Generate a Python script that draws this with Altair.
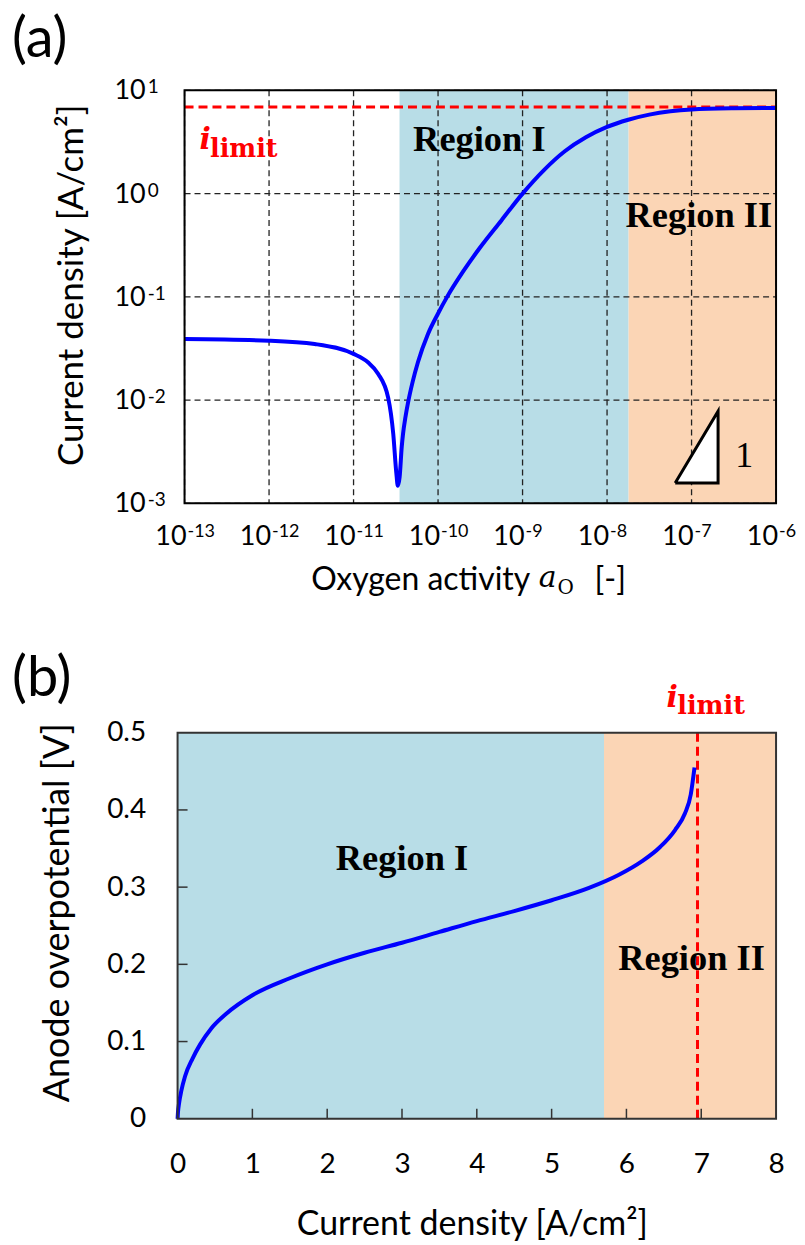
import altair as alt
import pandas as pd

# ---------------- Panel (a) data ----------------
a_activity = [1e-13, 1e-12, 3.47e-12, 1e-11, 1.48e-11, 1.95e-11, 2.57e-11, 2.95e-11, 3.21e-11,
              3.34e-11, 3.51e-11, 3.72e-11, 3.85e-11, 4.12e-11, 4.42e-11, 5.01e-11, 5.79e-11,
              7.6e-11, 1e-10, 1.26e-10, 2.0e-10, 3.16e-10, 5.62e-10, 1e-9, 1.78e-9, 3.16e-9,
              5.62e-9, 1e-8, 1.78e-8, 3.16e-8, 5.62e-8, 1e-7, 3.16e-7, 1e-6]
a_current = [0.039, 0.0376, 0.0349, 0.028, 0.0232, 0.018, 0.0105, 0.0047, 0.00195,
             0.00148, 0.0018, 0.00355, 0.0047, 0.0069, 0.0095, 0.0151, 0.0234,
             0.0437, 0.069, 0.0977, 0.178, 0.302, 0.55, 1.0, 1.68, 2.57,
             3.51, 4.42, 5.19, 5.82, 6.27, 6.53, 6.71, 6.76]
a_region_names = ["Region I", "Region II"]
a_region_start = [3.5e-11, 1.8e-8]
a_region_end = [1.8e-8, 1e-6]
a_ilimit = 6.9
a_xticks = [1e-13, 1e-12, 1e-11, 1e-10, 1e-9, 1e-8, 1e-7, 1e-6]
a_xbase = ["10"] * 8
a_xexp = ["-13", "-12", "-11", "-10", "-9", "-8", "-7", "-6"]
a_yticks = [1e-3, 1e-2, 1e-1, 1, 10]
a_ybase = ["10"] * 5
a_yexp = ["-3", "-2", "-1", "0", "1"]
tri_x = [6.4e-8, 2.06e-7]
tri_y = [0.00157, 0.0078]
a_text = ["Region I", "Region II"]
a_text_x = [3.08e-10, 1.22e-7]
a_text_y = [3.29, 0.607]
slope_text = ["1"]
slope_x = [4.2e-7]
slope_y = [0.0029]

# ---------------- Panel (b) data ----------------
b_current = [0, 0.005, 0.02, 0.05, 0.1, 0.2, 0.3, 0.45, 0.65, 1.0, 1.5, 2.0, 2.5, 3.0, 3.5,
             4.0, 4.5, 5.0, 5.5, 5.9, 6.2, 6.45, 6.65, 6.78, 6.86, 6.91]
b_overpot = [0, 0.008, 0.02, 0.036, 0.055, 0.078, 0.096, 0.117, 0.136, 0.16, 0.182, 0.2, 0.215,
             0.228, 0.242, 0.256, 0.269, 0.283, 0.299, 0.316, 0.333, 0.352, 0.374, 0.395, 0.42, 0.455]
b_region_start = [0, 5.7]
b_region_end = [5.7, 8]
b_ilimit = 6.95
b_xticks = [0, 1, 2, 3, 4, 5, 6, 7, 8]
b_yticks = [0, 0.1, 0.2, 0.3, 0.4, 0.5]
b_text = ["Region I", "Region II"]
b_text_x = [3.0, 6.87]
b_text_y = [0.336, 0.207]

BLUE_BG = "#B8DDE7"
ORANGE_BG = "#FBD5B5"
LINE_BLUE = "#0000FF"
RED = "#FF0000"
SANS = "Lato"
SERIF = "Liberation Serif"
MATH = "DejaVu Serif"

# ---------------- Panel (a) ----------------
WA, HA = 600, 414
X0 = 7  # plot area of panel (a) starts 7px right of panel (b)'s
xs_a = alt.Scale(type="log", domain=[1e-13, 1e-6], range=[X0, WA], nice=False)
ys_a = alt.Scale(type="log", domain=[1e-3, 10], nice=False)
AX_XA = alt.Axis(values=a_xticks, labels=False, ticks=False, domain=False, grid=False, title=None)
AX_YA = alt.Axis(values=a_yticks, labels=False, ticks=False, domain=False, grid=False,
                 title="Current density [A/cm²]", titleX=-106, titleY=195,
                 titleAngle=270, titleAlign="center", titleBaseline="middle", titleFontSize=35)

reg_a = pd.DataFrame({"name": a_region_names, "start": a_region_start, "end": a_region_end})
rects_a = alt.Chart(reg_a).mark_rect().encode(
    x=alt.X("start:Q", scale=xs_a, axis=AX_XA), x2="end:Q",
    y=alt.value(0), y2=alt.value(HA),
    color=alt.Color("name:N", scale=alt.Scale(domain=a_region_names, range=[BLUE_BG, ORANGE_BG]), legend=None),
)
gx_a = alt.Chart(pd.DataFrame({"v": a_xticks})).mark_rule(color="#222", strokeWidth=1.3, strokeDash=[6, 4]).encode(
    x=alt.X("v:Q", scale=xs_a, axis=AX_XA))
gy_a = alt.Chart(pd.DataFrame({"v": a_yticks})).mark_rule(color="#222", strokeWidth=1.3, strokeDash=[6, 4]).encode(
    y=alt.Y("v:Q", scale=ys_a, axis=AX_YA), x=alt.value(X0), x2=alt.value(WA))
lim_a = alt.Chart(pd.DataFrame({"v": [a_ilimit]})).mark_rule(color=RED, strokeWidth=3, strokeDash=[9, 5]).encode(
    y=alt.Y("v:Q", scale=ys_a, axis=AX_YA), x=alt.value(X0), x2=alt.value(WA))
curve_a = alt.Chart(pd.DataFrame({"a": a_activity, "i": a_current})).mark_line(
    color=LINE_BLUE, strokeWidth=4, interpolate="monotone").encode(
    x=alt.X("a:Q", scale=xs_a, axis=AX_XA), y=alt.Y("i:Q", scale=ys_a, axis=AX_YA))
tri_area = alt.Chart(pd.DataFrame({"x": tri_x, "y": [tri_y[0], tri_y[1]], "y2": [tri_y[0], tri_y[0]]})).mark_area(
    color="white", opacity=1).encode(
    x=alt.X("x:Q", scale=xs_a, axis=AX_XA), y=alt.Y("y:Q", scale=ys_a, axis=AX_YA), y2="y2:Q")
tri_line = alt.Chart(pd.DataFrame({"x": [tri_x[0], tri_x[1], tri_x[1], tri_x[0]],
                                   "y": [tri_y[0], tri_y[0], tri_y[1], tri_y[0]],
                                   "o": [0, 1, 2, 3]})).mark_line(color="black", strokeWidth=3, strokeJoin="miter").encode(
    x=alt.X("x:Q", scale=xs_a, axis=AX_XA), y=alt.Y("y:Q", scale=ys_a, axis=AX_YA), order="o:Q")
txt_a = alt.Chart(pd.DataFrame({"t": a_text, "x": a_text_x, "y": a_text_y})).mark_text(
    font=SERIF, fontWeight="bold", fontSize=36.5, color="black").encode(
    x=alt.X("x:Q", scale=xs_a, axis=AX_XA), y=alt.Y("y:Q", scale=ys_a, axis=AX_YA), text="t:N")
one_a = alt.Chart(pd.DataFrame({"t": slope_text, "x": slope_x, "y": slope_y})).mark_text(
    font=SERIF, fontSize=36, color="black").encode(
    x=alt.X("x:Q", scale=xs_a, axis=AX_XA), y=alt.Y("y:Q", scale=ys_a, axis=AX_YA), text="t:N")
il_i_a = alt.Chart(pd.DataFrame({"t": ["i"], "x": [1.75e-13], "y": [2.69]})).mark_text(
    font=MATH, fontWeight="bold", fontStyle="italic", fontSize=30, color=RED, baseline="alphabetic").encode(
    x=alt.X("x:Q", scale=xs_a, axis=AX_XA), y=alt.Y("y:Q", scale=ys_a, axis=AX_YA), text="t:N")
il_l_a = alt.Chart(pd.DataFrame({"t": ["limit"], "x": [2.0e-13], "y": [2.27]})).mark_text(
    font=MATH, fontWeight="bold", fontSize=25.5, color=RED, align="left", baseline="alphabetic").encode(
    x=alt.X("x:Q", scale=xs_a, axis=AX_XA), y=alt.Y("y:Q", scale=ys_a, axis=AX_YA), text="t:N")
frame_a = alt.Chart(pd.DataFrame({"d": [0]})).mark_rect(filled=False, stroke="black", strokeWidth=2).encode(
    x=alt.value(X0), x2=alt.value(WA), y=alt.value(0), y2=alt.value(HA))

# tick labels 10^n built from base + superscript exponent
xlab_df = pd.DataFrame({"v": a_xticks, "b": a_xbase, "e": a_xexp})
xlab_base = alt.Chart(xlab_df).mark_text(font=SANS, fontSize=27, align="right", baseline="alphabetic",
                                         dx=2, color="black").encode(
    x=alt.X("v:Q", scale=xs_a, axis=AX_XA), y=alt.value(HA + 42), text="b:N")
xlab_exp = alt.Chart(xlab_df).mark_text(font=SANS, fontSize=18, align="left", baseline="alphabetic",
                                        dx=3, color="black").encode(
    x=alt.X("v:Q", scale=xs_a, axis=AX_XA), y=alt.value(HA + 34), text="e:N")
ylab_df = pd.DataFrame({"v": a_yticks, "b": a_ybase, "e": a_yexp})
ylab_base = alt.Chart(ylab_df).mark_text(font=SANS, fontSize=27, align="right", baseline="alphabetic",
                                         dy=9, color="black").encode(
    y=alt.Y("v:Q", scale=ys_a, axis=AX_YA), x=alt.value(-32), text="b:N")
ylab_exp = alt.Chart(ylab_df).mark_text(font=SANS, fontSize=19, align="left", baseline="alphabetic",
                                        dy=3, color="black").encode(
    y=alt.Y("v:Q", scale=ys_a, axis=AX_YA), x=alt.value(-30), text="e:N")

lab_a = alt.Chart(pd.DataFrame({"t": ["(a)"]})).mark_text(
    font=SANS, fontSize=56, align="left", baseline="middle", color="black").encode(
    x=alt.value(-166), y=alt.value(-50), text="t:N")
xt_a1 = alt.Chart(pd.DataFrame({"t": ["Oxygen activity"]})).mark_text(
    font=SANS, fontSize=32, align="left", baseline="middle", color="black").encode(
    x=alt.value(134), y=alt.value(491), text="t:N")
xt_a2 = alt.Chart(pd.DataFrame({"t": ["a"]})).mark_text(
    font=MATH, fontStyle="italic", fontSize=30, align="left", baseline="middle", color="black").encode(
    x=alt.value(362), y=alt.value(489), text="t:N")
xt_a3 = alt.Chart(pd.DataFrame({"t": ["O"]})).mark_text(
    font=MATH, fontSize=20, align="left", baseline="middle", color="black").encode(
    x=alt.value(381), y=alt.value(499), text="t:N")
xt_a4 = alt.Chart(pd.DataFrame({"t": ["[-]"]})).mark_text(
    font=SANS, fontSize=32, align="left", baseline="middle", color="black").encode(
    x=alt.value(418), y=alt.value(491), text="t:N")

top = alt.layer(rects_a, gx_a, gy_a, lim_a, curve_a, tri_area, tri_line, txt_a, one_a,
                il_i_a, il_l_a, frame_a, xlab_base, xlab_exp, ylab_base, ylab_exp,
                lab_a, xt_a1, xt_a2, xt_a3, xt_a4).properties(width=WA, height=HA)

# ---------------- Panel (b) ----------------
WB, HB = 600, 387
xs_b = alt.Scale(domain=[0, 8], nice=False, zero=False)
ys_b = alt.Scale(domain=[0, 0.5], nice=False, zero=False)
AX_XB = alt.Axis(values=b_xticks, ticks=False, domain=False, grid=False, labelPadding=32, format="~g",
                 labelFlush=False, title="Current density [A/cm²]", titleX=295, titleY=106,
                 titleAlign="center", titleBaseline="middle", titleFontSize=34)
AX_YB = alt.Axis(values=b_yticks, ticks=False, domain=False, grid=False, labelPadding=32, format="~g",
                 labelFlush=False, title="Anode overpotential [V]", titleX=-120, titleY=180,
                 titleAngle=270, titleAlign="center", titleBaseline="middle", titleFontSize=36)
reg_b = pd.DataFrame({"name": a_region_names, "start": b_region_start, "end": b_region_end})
rects_b = alt.Chart(reg_b).mark_rect().encode(
    x=alt.X("start:Q", scale=xs_b, axis=AX_XB), x2="end:Q",
    y=alt.value(0), y2=alt.value(HB),
    color=alt.Color("name:N", scale=alt.Scale(domain=a_region_names, range=[BLUE_BG, ORANGE_BG]), legend=None),
)
tx_b = alt.Chart(pd.DataFrame({"v": b_xticks[1:-1]})).mark_rule(color="#333", strokeWidth=1.5).encode(
    x=alt.X("v:Q", scale=xs_b, axis=AX_XB), y=alt.value(HB), y2=alt.value(HB - 10))
ty_b = alt.Chart(pd.DataFrame({"v": b_yticks[1:-1]})).mark_rule(color="#333", strokeWidth=1.5).encode(
    y=alt.Y("v:Q", scale=ys_b, axis=AX_YB), x=alt.value(0), x2=alt.value(10))
lim_b = alt.Chart(pd.DataFrame({"v": [b_ilimit]})).mark_rule(color=RED, strokeWidth=3, strokeDash=[9, 5]).encode(
    x=alt.X("v:Q", scale=xs_b, axis=AX_XB))
curve_b = alt.Chart(pd.DataFrame({"c": b_current, "e": b_overpot})).mark_line(
    color=LINE_BLUE, strokeWidth=4, interpolate="monotone").encode(
    x=alt.X("c:Q", scale=xs_b, axis=AX_XB), y=alt.Y("e:Q", scale=ys_b, axis=AX_YB))
txt_b = alt.Chart(pd.DataFrame({"t": b_text, "x": b_text_x, "y": b_text_y})).mark_text(
    font=SERIF, fontWeight="bold", fontSize=36.5, color="black").encode(
    x=alt.X("x:Q", scale=xs_b, axis=AX_XB), y=alt.Y("y:Q", scale=ys_b, axis=AX_YB), text="t:N")
il_i_b = alt.Chart(pd.DataFrame({"t": ["i"], "x": [6.61], "y": [0.5336]})).mark_text(
    font=MATH, fontWeight="bold", fontStyle="italic", fontSize=30, color=RED, baseline="alphabetic").encode(
    x=alt.X("x:Q", scale=xs_b, axis=AX_XB), y=alt.Y("y:Q", scale=ys_b, axis=AX_YB), text="t:N")
il_l_b = alt.Chart(pd.DataFrame({"t": ["limit"], "x": [6.68], "y": [0.5245]})).mark_text(
    font=MATH, fontWeight="bold", fontSize=25.5, color=RED, align="left", baseline="alphabetic").encode(
    x=alt.X("x:Q", scale=xs_b, axis=AX_XB), y=alt.Y("y:Q", scale=ys_b, axis=AX_YB), text="t:N")
frame_b = alt.Chart(pd.DataFrame({"d": [0]})).mark_rect(filled=False, stroke="#333", strokeWidth=2).encode(
    x=alt.value(0), x2=alt.value(WB), y=alt.value(0), y2=alt.value(HB))
lab_b = alt.Chart(pd.DataFrame({"t": ["(b)"]})).mark_text(
    font=SANS, fontSize=56, align="left", baseline="middle", color="black").encode(
    x=alt.value(-166), y=alt.value(-54), text="t:N")

bottom = alt.layer(rects_b, tx_b, ty_b, lim_b, curve_b, txt_b, il_i_b, il_l_b, frame_b,
                   lab_b).properties(width=WB, height=HB)

chart = alt.vconcat(top, bottom, spacing=53).properties(
    padding={"left": 4, "top": 3, "right": 0, "bottom": 0},
).configure_view(stroke=None).configure_axis(
    labelFont=SANS, labelFontSize=28, labelColor="black",
    titleFont=SANS, titleFontSize=32, titleFontWeight="normal", titleColor="black",
)

chart.save("out.html", embed_options={"renderer": "svg", "actions": False})
